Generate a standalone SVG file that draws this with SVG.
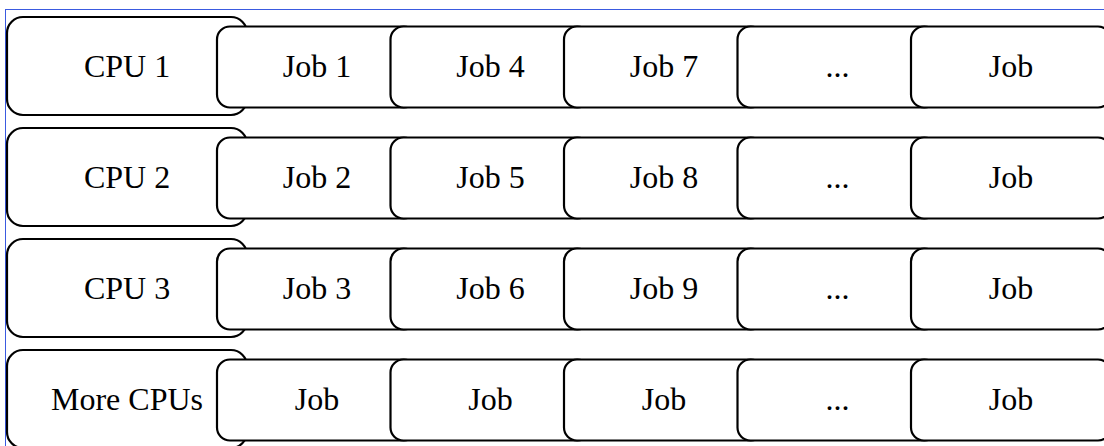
<svg xmlns="http://www.w3.org/2000/svg" width="1104" height="446" viewBox="0 0 1104 446">
<style>
.cpu{fill:#fff;stroke:#000;stroke-width:2.2}
.job{fill:#fff;stroke:#000;stroke-width:2.2}
.t{font-family:'Liberation Serif','Times New Roman',serif;font-size:32px;fill:#000;text-anchor:middle}
</style>
<rect x="5.5" y="9.5" width="1110" height="450" fill="#fff" stroke="#3a5ae0" stroke-width="1"/>
<g id="connectors"/>
<g id="row1">
<g id="cpu1"><rect class="cpu" x="7" y="17" width="240" height="98" rx="16"/><text class="t" x="127" y="77">CPU 1</text></g>
<g id="job1"><rect class="job" x="217" y="26.5" width="200" height="81" rx="13"/><text class="t" x="317" y="77">Job 1</text></g>
<g id="job4"><rect class="job" x="390.5" y="26.5" width="200" height="81" rx="13"/><text class="t" x="490.5" y="77">Job 4</text></g>
<g id="job7"><rect class="job" x="564" y="26.5" width="200" height="81" rx="13"/><text class="t" x="664" y="77">Job 7</text></g>
<g id="dots1"><rect class="job" x="737.5" y="26.5" width="200" height="81" rx="13"/><text class="t" x="837.5" y="77">...</text></g>
<g id="jobn1"><rect class="job" x="911" y="26.5" width="200" height="81" rx="13"/><text class="t" x="1011" y="77">Job</text></g>
</g>
<g id="row2" transform="translate(0,111)">
<g id="cpu2"><rect class="cpu" x="7" y="17" width="240" height="98" rx="16"/><text class="t" x="127" y="77">CPU 2</text></g>
<g id="job2"><rect class="job" x="217" y="26.5" width="200" height="81" rx="13"/><text class="t" x="317" y="77">Job 2</text></g>
<g id="job5"><rect class="job" x="390.5" y="26.5" width="200" height="81" rx="13"/><text class="t" x="490.5" y="77">Job 5</text></g>
<g id="job8"><rect class="job" x="564" y="26.5" width="200" height="81" rx="13"/><text class="t" x="664" y="77">Job 8</text></g>
<g id="dots2"><rect class="job" x="737.5" y="26.5" width="200" height="81" rx="13"/><text class="t" x="837.5" y="77">...</text></g>
<g id="jobn2"><rect class="job" x="911" y="26.5" width="200" height="81" rx="13"/><text class="t" x="1011" y="77">Job</text></g>
</g>
<g id="row3" transform="translate(0,222)">
<g id="cpu3"><rect class="cpu" x="7" y="17" width="240" height="98" rx="16"/><text class="t" x="127" y="77">CPU 3</text></g>
<g id="job3"><rect class="job" x="217" y="26.5" width="200" height="81" rx="13"/><text class="t" x="317" y="77">Job 3</text></g>
<g id="job6"><rect class="job" x="390.5" y="26.5" width="200" height="81" rx="13"/><text class="t" x="490.5" y="77">Job 6</text></g>
<g id="job9"><rect class="job" x="564" y="26.5" width="200" height="81" rx="13"/><text class="t" x="664" y="77">Job 9</text></g>
<g id="dots3"><rect class="job" x="737.5" y="26.5" width="200" height="81" rx="13"/><text class="t" x="837.5" y="77">...</text></g>
<g id="jobn3"><rect class="job" x="911" y="26.5" width="200" height="81" rx="13"/><text class="t" x="1011" y="77">Job</text></g>
</g>
<g id="row4" transform="translate(0,333)">
<g id="cpu4"><rect class="cpu" x="7" y="17" width="240" height="98" rx="16"/><text class="t" x="127" y="77">More CPUs</text></g>
<g id="joba4"><rect class="job" x="217" y="26.5" width="200" height="81" rx="13"/><text class="t" x="317" y="77">Job</text></g>
<g id="jobb4"><rect class="job" x="390.5" y="26.5" width="200" height="81" rx="13"/><text class="t" x="490.5" y="77">Job</text></g>
<g id="jobc4"><rect class="job" x="564" y="26.5" width="200" height="81" rx="13"/><text class="t" x="664" y="77">Job</text></g>
<g id="dots4"><rect class="job" x="737.5" y="26.5" width="200" height="81" rx="13"/><text class="t" x="837.5" y="77">...</text></g>
<g id="jobn4"><rect class="job" x="911" y="26.5" width="200" height="81" rx="13"/><text class="t" x="1011" y="77">Job</text></g>
</g>
</svg>
